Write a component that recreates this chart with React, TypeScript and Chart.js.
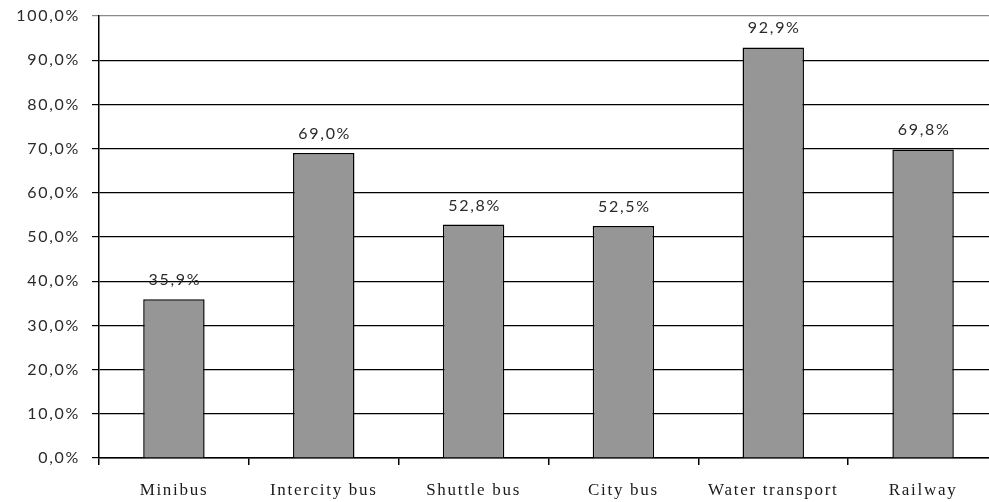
import React, { useEffect, useRef } from "react";
import { Chart, registerables } from "chart.js";

Chart.register(...registerables);

const categories = ["Minibus", "Intercity bus", "Shuttle bus", "City bus", "Water transport", "Railway"];
const values = [35.9, 69.0, 52.8, 52.5, 92.9, 69.8];
const yMin = 0;
const yMax = 100;
const yStep = 10;

const fmt = (v: number) => v.toFixed(1).replace(".", ",") + "%";

const spacingPlugin = {
  id: "spacing",
  beforeDraw(chart: any) {
    (chart.ctx as any).letterSpacing = "1.7px";
  },
};

const dataLabelPlugin = {
  id: "dataLabels",
  afterDatasetsDraw(chart: any) {
    const ctx = chart.ctx;
    const meta = chart.getDatasetMeta(0);
    ctx.save();
    (ctx as any).letterSpacing = "1.7px";
    ctx.font = "16px Lato";
    ctx.fillStyle = "#2a2a2a";
    ctx.textAlign = "center";
    ctx.textBaseline = "alphabetic";
    meta.data.forEach((bar: any, i: number) => {
      ctx.fillText(fmt(values[i]), bar.x + 1, bar.y - 14);
    });
    ctx.restore();
  },
};

export default function App() {
  const ref = useRef<HTMLCanvasElement>(null);
  useEffect(() => {
    if (!ref.current) return;
    const chart = new Chart(ref.current, {
      type: "bar",
      data: {
        labels: categories,
        datasets: [
          {
            data: values,
            backgroundColor: "#969696",
            borderColor: "#000000",
            borderWidth: 1.5,
            barPercentage: 0.82,
            categoryPercentage: 0.5,
          },
        ],
      },
      options: {
        responsive: false,
        animation: false,
        events: [],
        layout: { padding: { top: 16, left: 0, right: 0, bottom: 0 } },
        plugins: { legend: { display: false }, tooltip: { enabled: false } },
        scales: {
          x: {
            grid: {
              display: true,
              offset: true,
              drawOnChartArea: false,
              drawTicks: true,
              tickLength: 7,
              color: "#000000",
              lineWidth: 1.5,
            },
            border: { display: true, color: "#000000", width: 1.5 },
            ticks: {
              color: "#1a1a1a",
              font: { family: "'Liberation Serif'", size: 17 },
              padding: 15,
              maxRotation: 0,
              autoSkip: false,
            },
            afterFit: (s: any) => {
              s.height = 44;
              s.paddingLeft = 0;
              s.paddingRight = 0;
            },
          },
          y: {
            min: yMin,
            max: yMax,
            grid: {
              color: (c: any) => (c.tick && c.tick.value === 100 ? "#8a8a8a" : "#000000"),
              lineWidth: 1.2,
              tickLength: 7,
              drawTicks: true,
            },
            border: { display: true, color: "#000000", width: 1.5 },
            ticks: {
              stepSize: yStep,
              color: "#2a2a2a",
              font: { family: "Lato", size: 16 },
              padding: 12,
              callback: (v: any) => fmt(Number(v)),
            },
            afterFit: (s: any) => {
              s.width = 99;
              s.paddingTop = 0;
              s.paddingBottom = 0;
            },
          },
        },
      },
      plugins: [spacingPlugin, dataLabelPlugin],
    });
    return () => chart.destroy();
  }, []);
  return (
    <div style={{ position: "absolute", left: 0, top: 0, width: 989, height: 502, overflow: "hidden", background: "#fff" }}>
      <canvas ref={ref} width={998} height={502} style={{ width: 998, height: 502, display: "block" }} />
    </div>
  );
}
